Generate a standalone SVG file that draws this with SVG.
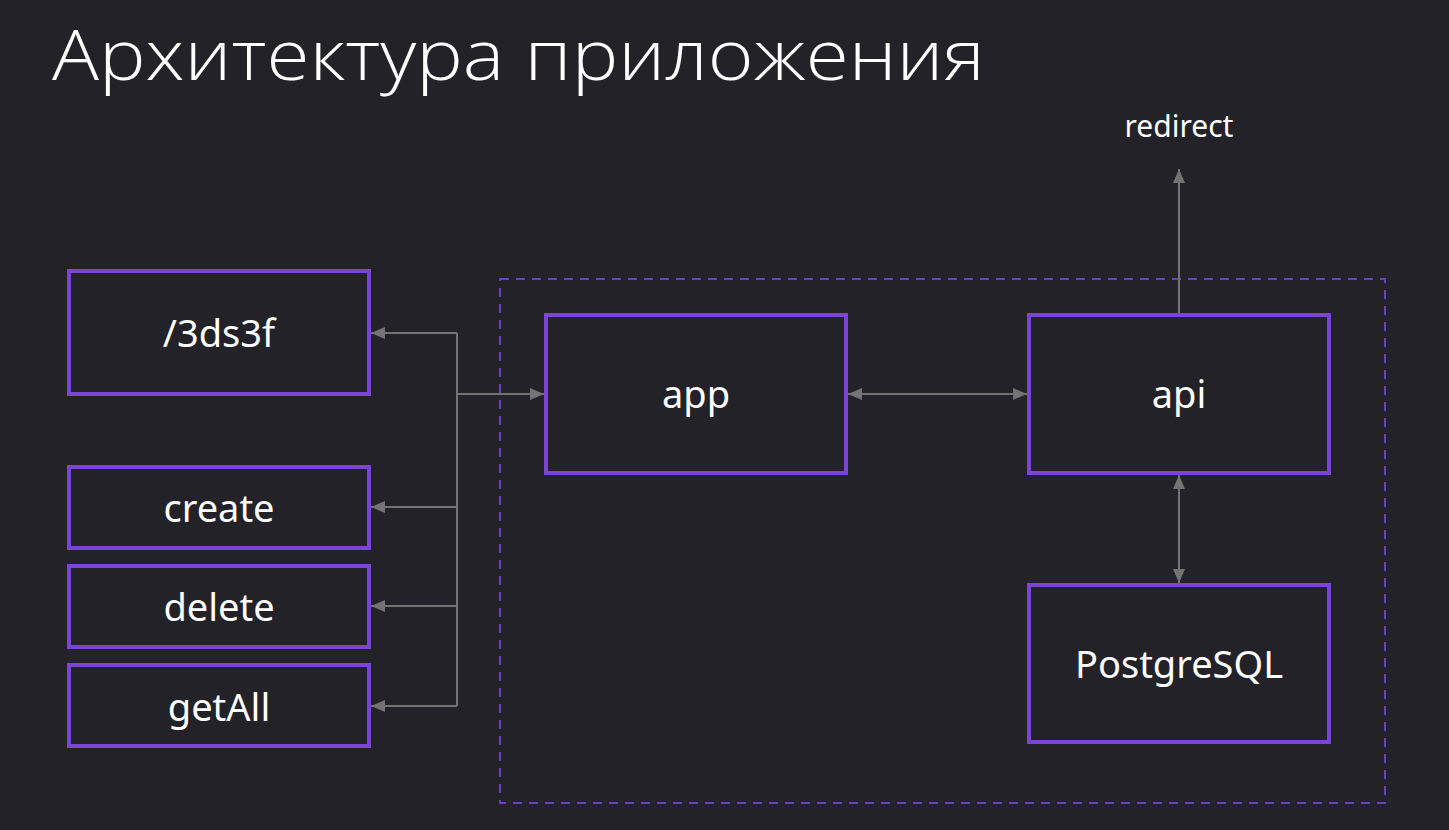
<svg xmlns="http://www.w3.org/2000/svg" width="1449" height="830" viewBox="0 0 1449 830">
<style>
.bg{fill:#242229}
.node{fill:#242229;stroke:#7a45d4;stroke-width:4}
.lbl{font-family:"Noto Sans","Open Sans",sans-serif;font-size:38px;fill:#ffffff;text-anchor:middle}
.conn{stroke:#737373;stroke-width:2;fill:none}
.group{fill:none;stroke:#6a3fc0;stroke-width:2;stroke-dasharray:9 7}
</style>
<defs>
<marker id="ah" viewBox="0 0 14 12" refX="14" refY="6" markerWidth="14" markerHeight="12" markerUnits="userSpaceOnUse" orient="auto-start-reverse">
<path d="M0,0 L14,6 L0,12 Z" fill="#737373"/>
</marker>
</defs>
<rect class="bg" x="0" y="0" width="1449" height="830"/>
<text x="52" y="80" font-family="'Open Sans','Noto Sans',sans-serif" font-weight="300" font-size="70" fill="#ffffff" textLength="933" lengthAdjust="spacingAndGlyphs">Архитектура приложения</text>
<rect id="container" class="group" x="500" y="279" width="885" height="524"/>
<g id="connectors">
<path class="conn" d="M457,333 V706"/>
<path class="conn" d="M457,333 H371" marker-end="url(#ah)"/>
<path class="conn" d="M457,507 H371" marker-end="url(#ah)"/>
<path class="conn" d="M457,606 H371" marker-end="url(#ah)"/>
<path class="conn" d="M457,706 H371" marker-end="url(#ah)"/>
<path class="conn" d="M457,394 H544" marker-end="url(#ah)"/>
<path class="conn" d="M848,394 H1027" marker-start="url(#ah)" marker-end="url(#ah)"/>
<path class="conn" d="M1179,475 V583" marker-start="url(#ah)" marker-end="url(#ah)"/>
<path class="conn" d="M1179,313 V169" marker-end="url(#ah)"/>
</g>
<g id="node-3ds3f"><rect class="node" x="69" y="271" width="300" height="123"/><text class="lbl" x="219" y="347">/3ds3f</text></g>
<g id="node-create"><rect class="node" x="69" y="467" width="300" height="81"/><text class="lbl" x="219" y="522">create</text></g>
<g id="node-delete"><rect class="node" x="69" y="566" width="300" height="81"/><text class="lbl" x="219" y="621">delete</text></g>
<g id="node-getAll"><rect class="node" x="69" y="665" width="300" height="81"/><text class="lbl" x="219" y="721">getAll</text></g>
<g id="node-app"><rect class="node" x="546" y="315" width="300" height="158"/><text class="lbl" x="696" y="408">app</text></g>
<g id="node-api"><rect class="node" x="1029" y="315" width="300" height="158"/><text class="lbl" x="1179" y="408">api</text></g>
<g id="node-postgres"><rect class="node" x="1029" y="585" width="300" height="157"/><text class="lbl" x="1179" y="678">PostgreSQL</text></g>
<g id="label-redirect"><text x="1179" y="137" font-family="'Noto Sans','Open Sans',sans-serif" font-size="30" fill="#ffffff" text-anchor="middle">redirect</text></g>
</svg>
